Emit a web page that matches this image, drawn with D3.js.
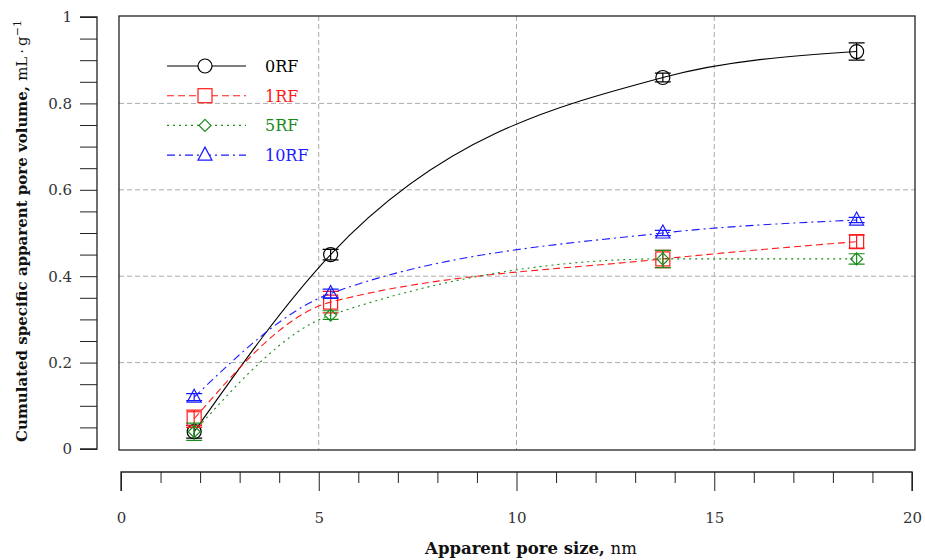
<!DOCTYPE html>
<html>
<head>
<meta charset="utf-8">
<script src="https://cdn.jsdelivr.net/npm/d3@7"></script>
<style>
  body { margin: 0; background: #fff; }
  text { font-family: "DejaVu Serif", "Liberation Serif", serif; }
</style>
</head>
<body>
<div id="chart-area"></div>
<script>
// data
const poreSize = [1.85, 5.3, 13.7, 18.6];
const seriesNames = ['0RF', '1RF', '5RF', '10RF'];
const vol0RF = [0.04, 0.45, 0.86, 0.92];
const vol1RF = [0.07, 0.34, 0.44, 0.48];
const vol5RF = [0.04, 0.31, 0.44, 0.44];
const vol10RF = [0.12, 0.36, 0.50, 0.53];
const err0RF = [0.015, 0.012, 0.01, 0.02];
const err1RF = [0.02, 0.025, 0.02, 0.015];
const err5RF = [0.02, 0.01, 0.02, 0.012];
const err10RF = [0.008, 0.01, 0.006, 0.006];
const xTicks = [0, 5, 10, 15, 20];
const yTicks = [0, 0.2, 0.4, 0.6, 0.8, 1];

const W = 925, H = 560;
const box = {left: 119, right: 915, top: 16, bottom: 450};

const svg = d3.select('#chart-area').append('svg')
  .attr('width', W)
  .attr('height', H);

const x = d3.scaleLinear().domain([0, 20]).range([121, 912]);
const y = d3.scaleLinear().domain([0, 1]).range([449, 17]);

// grid
svg.append('g').selectAll('line.vg')
  .data([5, 10, 15]).enter().append('line')
  .attr('x1', d => x(d)).attr('x2', d => x(d))
  .attr('y1', box.top).attr('y2', box.bottom)
  .attr('stroke', '#aaa').attr('stroke-width', 1).attr('stroke-dasharray', '5,3');
svg.append('g').selectAll('line.hg')
  .data([0.2, 0.4, 0.6, 0.8]).enter().append('line')
  .attr('x1', box.left).attr('x2', box.right)
  .attr('y1', d => y(d)).attr('y2', d => y(d))
  .attr('stroke', '#aaa').attr('stroke-width', 1).attr('stroke-dasharray', '5,3');

// frame
svg.append('rect')
  .attr('x', box.left).attr('y', box.top)
  .attr('width', box.right - box.left).attr('height', box.bottom - box.top)
  .attr('fill', 'none').attr('stroke', '#222').attr('stroke-width', 1.3);

// detached y axis
const yAxis = svg.append('g').attr('transform', 'translate(97,0)')
  .call(d3.axisLeft(y).tickValues(d3.range(0, 1.001, 0.05)).tickSize(17)
    .tickFormat(d => yTicks.some(t => Math.abs(t - d) < 1e-6) ? d3.format('~g')(d) : ''));
yAxis.select('.domain').attr('d', `M-17,${y(1)}H0V${y(0)}H-17`).attr('stroke', '#222').attr('stroke-width', 1.3);
yAxis.selectAll('.tick line').attr('stroke', '#222');
yAxis.selectAll('.tick text').attr('x', -25).attr('font-size', 15).attr('fill', '#333')
  .attr('font-family', '"DejaVu Serif", serif');

// detached x axis
const xAxis = svg.append('g').attr('transform', 'translate(0,472)')
  .call(d3.axisBottom(x).tickValues(d3.range(0, 21, 1)).tickSize(11)
    .tickFormat(d => xTicks.includes(d) ? d : ''));
xAxis.select('.domain').attr('d', `M${x(0)},19V0H${x(20)}V19`).attr('stroke', '#222').attr('stroke-width', 1.3);
xAxis.selectAll('.tick line').attr('stroke', '#222')
  .attr('y2', d => d % 5 === 0 ? 19 : 11);
xAxis.selectAll('.tick text').attr('y', 40).attr('font-size', 15).attr('fill', '#333')
  .attr('font-family', '"DejaVu Serif", serif');

// axis titles
svg.append('text')
  .attr('transform', `translate(27,231) rotate(-90)`)
  .attr('text-anchor', 'middle').attr('font-size', 15).attr('fill', '#111')
  .call(t => {
    t.append('tspan').attr('font-weight', 'bold').text('Cumulated specific apparent pore volume, ');
    t.append('tspan').text('mL\u2009·\u2009g');
    t.append('tspan').attr('dy', -6).attr('font-size', 11).text('\u22121');
  });

svg.append('text')
  .attr('x', 531).attr('y', 554)
  .attr('text-anchor', 'middle').attr('font-size', 16.5).attr('fill', '#111')
  .call(t => {
    t.append('tspan').attr('font-weight', 'bold').text('Apparent pore size, ');
    t.append('tspan').text('nm');
  });

const series = [
  {name: seriesNames[0], vals: vol0RF, errs: err0RF, color: '#000', dash: null, shape: 'circle'},
  {name: seriesNames[1], vals: vol1RF, errs: err1RF, color: '#ff1a1a', dash: '7,4', shape: 'square'},
  {name: seriesNames[2], vals: vol5RF, errs: err5RF, color: '#1a8a1a', dash: '2,4', shape: 'diamond'},
  {name: seriesNames[3], vals: vol10RF, errs: err10RF, color: '#1a1aff', dash: '8,4,2,4', shape: 'triangle'}
];

function marker(g, shape, color, fill) {
  if (shape === 'circle') {
    g.append('circle').attr('r', 7);
  } else if (shape === 'square') {
    g.append('rect').attr('x', -7).attr('y', -7).attr('width', 14).attr('height', 14);
  } else if (shape === 'diamond') {
    g.append('path').attr('d', 'M0,-6L6,0L0,6L-6,0Z');
  } else {
    g.append('path').attr('d', 'M0,-8L7,5L-7,5Z');
  }
  g.selectAll('circle, rect, path').attr('fill', fill || 'none').attr('stroke', color).attr('stroke-width', 1.2);
}

const line = d3.line()
  .x((d, i) => x(poreSize[i]))
  .y(d => y(d))
  .curve(d3.curveMonotoneX);

series.forEach(s => {
  svg.append('path')
    .datum(s.vals)
    .attr('d', line)
    .attr('fill', 'none')
    .attr('stroke', s.color)
    .attr('stroke-width', 1.1)
    .attr('stroke-dasharray', s.dash);

  const pts = svg.append('g').selectAll('g')
    .data(s.vals).enter().append('g')
    .attr('transform', (d, i) => `translate(${x(poreSize[i])},${y(d)})`);

  pts.each(function (d, i) {
    const g = d3.select(this);
    const e = y(0) - y(s.errs[i]);
    g.append('path')
      .attr('d', `M0,${-e}V${e}M-8,${-e}H8M-8,${e}H8`)
      .attr('stroke', s.color).attr('stroke-width', 1.2).attr('fill', 'none');
    marker(g, s.shape, s.color);
  });
});

// legend
const legend = svg.append('g');
series.forEach((s, i) => {
  const ly = 66 + i * 29.7;
  legend.append('line')
    .attr('x1', 167).attr('x2', 246).attr('y1', ly).attr('y2', ly)
    .attr('stroke', s.color).attr('stroke-width', 1.1).attr('stroke-dasharray', s.dash);
  const g = legend.append('g').attr('transform', `translate(205,${ly})`);
  marker(g, s.shape, s.color, '#fff');
  legend.append('text')
    .attr('x', 265).attr('y', ly + 6)
    .attr('font-size', 16).attr('fill', s.color)
    .text(s.name);
});
</script>
</body>
</html>
